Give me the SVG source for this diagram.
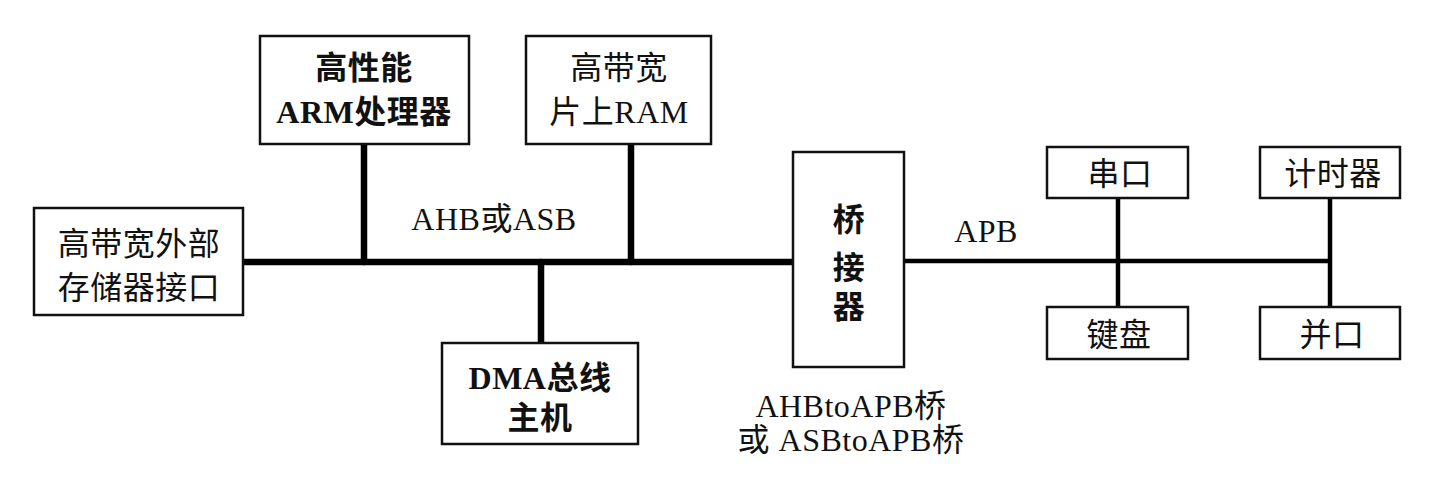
<svg xmlns="http://www.w3.org/2000/svg" width="1433" height="489" viewBox="0 0 1433 489">
<style>
.box{fill:#fff;stroke:#111;stroke-width:2.5}
.t{font-family:"Liberation Serif","Noto Sans CJK SC",serif;font-size:32px;fill:#111;text-anchor:middle;letter-spacing:0.5px}
.b{font-weight:bold}
.ahb{stroke:#000;stroke-width:6.5;stroke-linecap:round;fill:none}
.apb{stroke:#000;stroke-width:4.5;fill:none}
</style>
<rect width="1433" height="489" fill="#fff"/>
<g id="connectors">
<line class="ahb" x1="243" y1="262" x2="793" y2="262"/>
<line class="ahb" x1="364" y1="143" x2="364" y2="262" stroke-linecap="butt"/>
<line class="ahb" x1="631" y1="143" x2="631" y2="262" stroke-linecap="butt"/>
<line class="ahb" x1="541" y1="262" x2="541" y2="343" stroke-linecap="butt"/>
<line class="apb" x1="904" y1="261" x2="1330" y2="261"/>
<line class="apb" x1="1118" y1="198" x2="1118" y2="307"/>
<line class="apb" x1="1330" y1="198" x2="1330" y2="307"/>
</g>
<g id="arm">
<rect class="box" x="260" y="36" width="209" height="108"/>
<text class="t b" x="364" y="79">高性能</text>
<text class="t b" x="364" y="123">ARM处理器</text>
</g>
<g id="ram">
<rect class="box" x="526" y="36" width="185" height="108"/>
<text class="t" x="619" y="79">高带宽</text>
<text class="t" x="619" y="123">片上RAM</text>
</g>
<g id="extmem">
<rect class="box" x="34" y="208" width="209" height="107"/>
<text class="t" x="139" y="255">高带宽外部</text>
<text class="t" x="139" y="299">存储器接口</text>
</g>
<g id="dma">
<rect class="box" x="442" y="343" width="196" height="101"/>
<text class="t b" x="540" y="389">DMA总线</text>
<text class="t b" x="540" y="429">主机</text>
</g>
<g id="bridge">
<rect class="box" x="793" y="152" width="111" height="215"/>
<text class="t b" x="849" y="231">桥</text>
<text class="t b" x="849" y="279">接</text>
<text class="t b" x="849" y="318">器</text>
</g>
<g id="uart">
<rect class="box" x="1047" y="147" width="141" height="51"/>
<text class="t" x="1120" y="185" letter-spacing="3">串口</text>
</g>
<g id="timer">
<rect class="box" x="1260" y="147" width="140" height="51"/>
<text class="t" x="1333" y="185">计时器</text>
</g>
<g id="keyboard">
<rect class="box" x="1047" y="307" width="141" height="52"/>
<text class="t" x="1119" y="346">键盘</text>
</g>
<g id="parallel">
<rect class="box" x="1260" y="307" width="140" height="52"/>
<text class="t" x="1332" y="346">并口</text>
</g>
<g id="labels">
<text class="t" x="494" y="230">AHB或ASB</text>
<text class="t" x="986" y="242">APB</text>
<text class="t" x="851" y="417">AHBtoAPB桥</text>
<text class="t" x="851" y="451">或 ASBtoAPB桥</text>
</g>
</svg>
